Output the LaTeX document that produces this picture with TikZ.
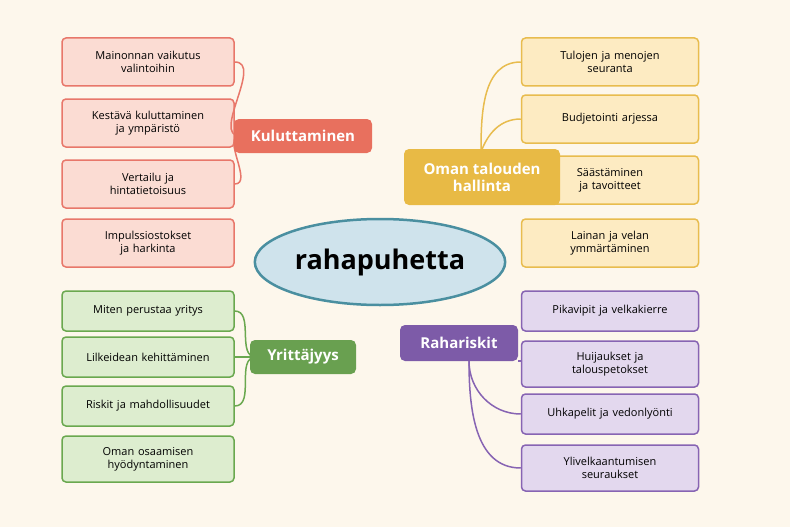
\documentclass[tikz,border=0pt]{standalone}
\usepackage{fontspec}
\setmainfont{Open Sans}
\usetikzlibrary{positioning, shapes.geometric}
\definecolor{bgcol}{HTML}{FDF7EC}
\definecolor{redfill}{HTML}{FBDCD3}\definecolor{reddraw}{HTML}{E8776A}\definecolor{redhub}{HTML}{E8705E}
\definecolor{yelfill}{HTML}{FDEBC2}\definecolor{yeldraw}{HTML}{E8BC4E}\definecolor{yelhub}{HTML}{E8BA45}
\definecolor{grnfill}{HTML}{DDEDCF}\definecolor{grndraw}{HTML}{6AA84F}\definecolor{grnhub}{HTML}{69A050}
\definecolor{purfill}{HTML}{E3D8EE}\definecolor{purdraw}{HTML}{8764B3}\definecolor{purhub}{HTML}{7D5BA8}
\definecolor{ctrfill}{HTML}{CFE3EC}\definecolor{ctrdraw}{HTML}{4A8FA0}
\begin{document}
\begin{tikzpicture}[x=1pt, y=-1pt]

			% Define styles
			\tikzset{
				leaf/.style={
					rectangle, draw, rounded corners=4pt, line width=1.5pt,
					minimum width=172pt, text width=160pt,
					align=center, font=\fontsize{11}{13}\selectfont
				},
				hub/.style={
					rectangle, rounded corners=5pt, text=white,
					align=center, font=\fontsize{15}{17}\selectfont\bfseries
				},
				kulu/.style={leaf, fill=redfill, draw=reddraw, minimum height=48pt},
				oman/.style={leaf, fill=yelfill, draw=yeldraw, minimum height=48pt, minimum width=177pt},
				yrit/.style={leaf, fill=grnfill, draw=grndraw, minimum height=40pt},
				risk/.style={leaf, fill=purfill, draw=purdraw, minimum height=40pt, minimum width=177pt},
				link/.style={line width=1.5pt}
			}

			\fill[bgcol] (0,0) rectangle (790,527);

			% Center
			\node (center) [ellipse, draw=ctrdraw, fill=ctrfill, line width=2.5pt, minimum width=206pt, minimum height=86pt,
				font=\fontsize{27}{30}\selectfont\bfseries] at (380,262) {rahapuhetta};

			% Kuluttaminen
			\node (k1) [kulu] at (148,62)  {Mainonnan vaikutus\\valintoihin};
			\node (k2) [kulu] at (148,123) {Kestävä kuluttaminen\\ja ympäristö};
			\node (k3) [kulu] at (148,184) {Vertailu ja\\hintatietoisuus};
			\node (k4) [kulu] at (148,243) {Impulssiostokset\\ja harkinta};
			\draw[link, reddraw] (k1.east) to[out=0, in=180] (240,136);
			\draw[link, reddraw] (k2.east) -- (240,136);
			\draw[link, reddraw] (k3.east) to[out=0, in=180] (240,136);
			\node (kulu) [hub, fill=redhub, minimum width=138pt, minimum height=34pt] at (303,136) {Kuluttaminen};

			% Oman talouden hallinta
			\node (o1) [oman] at (610,62)  {Tulojen ja menojen\\seuranta};
			\node (o2) [oman] at (610,119) {Budjetointi arjessa};
			\node (o3) [oman] at (610,180) {Säästäminen\\ja tavoitteet};
			\node (o4) [oman] at (610,243) {Lainan ja velan\\ymmärtäminen};
			\draw[link, yeldraw] (481,152) to[out=90, in=180] (o1.west);
			\draw[link, yeldraw] (481,152) to[out=70, in=180] (o2.west);
			\node (oman) [hub, fill=yelhub, minimum width=156pt, minimum height=56pt] at (482,177) {Oman talouden\\hallinta};

			% Yrittäjyys
			\node (y1) [yrit] at (148,311) {Miten perustaa yritys};
			\node (y2) [yrit] at (148,357) {Lilkeidean kehittäminen};
			\node (y3) [yrit] at (148,406) {Riskit ja mahdollisuudet};
			\node (y4) [yrit, minimum height=46pt] at (148,459) {Oman osaamisen\\hyödyntaminen};
			\draw[link, grndraw] (y1.east) to[out=0, in=180] (256,357);
			\draw[link, grndraw] (y2.east) -- (256,357);
			\draw[link, grndraw] (y3.east) to[out=0, in=180] (256,357);
			\node (yrit) [hub, fill=grnhub, minimum width=106pt, minimum height=34pt] at (303,357) {Yrittäjyys};

			% Rahariskit
			\node (r1) [risk] at (610,311) {Pikavipit ja velkakierre};
			\node (r2) [risk, minimum height=46pt] at (610,364) {Huijaukset ja\\talouspetokset};
			\node (r3) [risk] at (610,414) {Uhkapelit ja vedonlyönti};
			\node (r4) [risk, minimum height=46pt] at (610,468) {Ylivelkaantumisen\\seuraukset};
			\node (risk) [hub, fill=purhub, minimum width=118pt, minimum height=36pt] at (459,343) {Rahariskit};
			\draw[link, purdraw] (risk.south east) -- (r2.west |- risk.south east);
			\draw[link, purdraw] (469,361) to[out=-90, in=180] (r3.west);
			\draw[link, purdraw] (469,361) to[out=-90, in=180] (r4.west);

\end{tikzpicture}
\end{document}
